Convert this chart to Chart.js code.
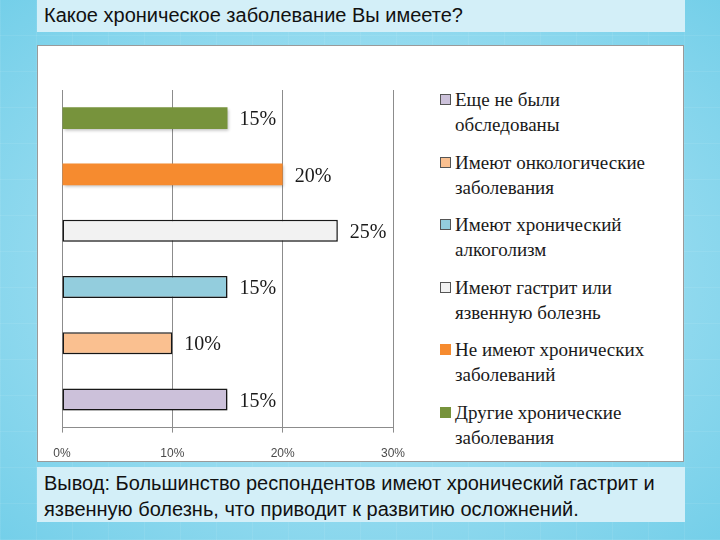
<!DOCTYPE html>
<html>
<head>
<meta charset="utf-8">
<title>Какое хроническое заболевание Вы имеете?</title>
<script src="https://cdn.jsdelivr.net/npm/chart.js@4.4.0/dist/chart.umd.min.js"></script>
<style>
  body {
    margin: 0;
    width: 720px;
    height: 540px;
    overflow: hidden;
    position: relative;
    font-family: "Liberation Sans", Arial, sans-serif;
    background:
      repeating-linear-gradient(90deg, rgba(255,255,255,0.07) 0 1px, transparent 1px 36px),
      repeating-linear-gradient(0deg, rgba(255,255,255,0.07) 0 1px, transparent 1px 36px),
      radial-gradient(ellipse at 50% 50%, #c0ebf7 0%, #9edef1 45%, #74cfe9 100%);
  }
  .header {
    position: absolute; left: 37px; top: 0; width: 648px; height: 32px;
    background: #d3eff8; color: #111; font-size: 20px; line-height: 31px;
    padding-left: 7px; box-sizing: border-box;
  }
  .panel {
    position: absolute; left: 37px; top: 45px; width: 647px; height: 417px;
    background: #fff; border: 1px solid #9a9a9a; box-sizing: border-box;
  }
  .chart-wrap { position: absolute; left: 0; top: 0; width: 400px; height: 429px; }
  .legend {
    position: absolute; left: 402px; top: 41px;
    font-family: "Liberation Serif", "Times New Roman", serif;
    font-size: 19px; line-height: 25px; color: #1a1a1a;
  }
  .legend-item { position: relative; padding-left: 15px; margin-bottom: 12.5px; white-space: nowrap; }
  .swatch { position: absolute; left: 0; top: 7px; width: 9px; height: 9px; border: 1px solid #555; }
  .footer {
    position: absolute; left: 37px; top: 467px; width: 648px; height: 55px;
    background: #d3eff8; color: #111; font-size: 20px; line-height: 26px;
    padding: 3px 7px; box-sizing: border-box;
  }
</style>
</head>
<body>
  <div class="header">Какое хроническое заболевание Вы имеете?</div>
  <div class="panel">
    <div class="chart-wrap"><canvas id="canvas"></canvas></div>
    <div class="legend" id="legend"></div>
  </div>
  <div class="footer">Вывод: Большинство респондентов имеют хронический гастрит и язвенную болезнь, что приводит к развитию осложнений.</div>

<script>
  // categories, bottom bar first (as in the legend)
  var categories = [
    ['Еще не были', 'обследованы'],
    ['Имеют онкологические', 'заболевания'],
    ['Имеют хронический', 'алкоголизм'],
    ['Имеют гастрит или', 'язвенную болезнь'],
    ['Не имеют хронических', 'заболеваний'],
    ['Другие хронические', 'заболевания']
  ];
  var percents = [15, 10, 15, 25, 20, 15];
  var xTicks = [0, 10, 20, 30];

  var barColors = ['#ccc1da', '#fac090', '#93cddd', '#f2f2f2', '#f68b2f', '#77933c'];
  var barBorders = ['#1a1a1a', '#1a1a1a', '#1a1a1a', '#1a1a1a', '#f68b2f', '#77933c'];
  var borderWidths = [1.5, 1.5, 1.5, 1.5, 0, 0];

  // html legend
  var legendEl = document.getElementById('legend');
  categories.forEach(function(lines, i) {
    var item = document.createElement('div');
    item.className = 'legend-item';
    var sw = document.createElement('span');
    sw.className = 'swatch';
    sw.style.background = barColors[i];
    if (borderWidths[i] === 0) sw.style.borderColor = barColors[i];
    item.appendChild(sw);
    lines.forEach(function(line, j) {
      if (j > 0) item.appendChild(document.createElement('br'));
      item.appendChild(document.createTextNode(line));
    });
    legendEl.appendChild(item);
  });

  var barShadow = {
    id: 'barShadow',
    beforeDatasetsDraw: function(chart) {
      var ctx = chart.ctx;
      ctx.save();
      ctx.shadowColor = 'rgba(0,0,0,0.25)';
      ctx.shadowBlur = 3;
      ctx.shadowOffsetX = 1;
      ctx.shadowOffsetY = 2;
    },
    afterDatasetsDraw: function(chart) {
      chart.ctx.restore();
    }
  };

  var valueLabels = {
    id: 'valueLabels',
    afterDraw: function(chart) {
      var ctx = chart.ctx;
      var meta = chart.getDatasetMeta(0);
      ctx.save();
      ctx.font = '20px "Liberation Serif", "Times New Roman", serif';
      ctx.fillStyle = '#1a1a1a';
      ctx.textBaseline = 'middle';
      ctx.textAlign = 'left';
      meta.data.forEach(function(bar, i) {
        ctx.fillText(percents[i] + '%', bar.x + 12, bar.y + 2);
      });
      ctx.restore();
    }
  };

  var ctx = document.getElementById('canvas').getContext('2d');
  var chart = new Chart(ctx, {
    type: 'bar',
    data: {
      labels: categories,
      datasets: [{
        data: percents,
        backgroundColor: barColors,
        borderColor: barBorders,
        borderWidth: borderWidths,
        borderSkipped: false,
        categoryPercentage: 1,
        barPercentage: 0.39
      }]
    },
    options: {
      indexAxis: 'y',
      responsive: true,
      maintainAspectRatio: false,
      animation: false,
      layout: { padding: { left: 24, right: 45, top: 44, bottom: 0 } },
      plugins: {
        legend: { display: false },
        tooltip: { enabled: false }
      },
      scales: {
        y: { display: false, reverse: true },
        x: {
          min: 0,
          max: 30,
          afterBuildTicks: function(scale) {
            scale.ticks = xTicks.map(function(v) { return { value: v }; });
          },
          grid: { color: '#8c8c8c', lineWidth: 1, tickLength: 5, drawTicks: true },
          border: { display: true, color: '#8c8c8c', width: 1 },
          ticks: {
            color: '#4a4a4a',
            padding: 14,
            font: { family: '"Liberation Sans", Arial, sans-serif', size: 12 },
            callback: function(v) { return v + '%'; }
          }
        }
      }
    },
    plugins: [barShadow, valueLabels]
  });
</script>
</body>
</html>
